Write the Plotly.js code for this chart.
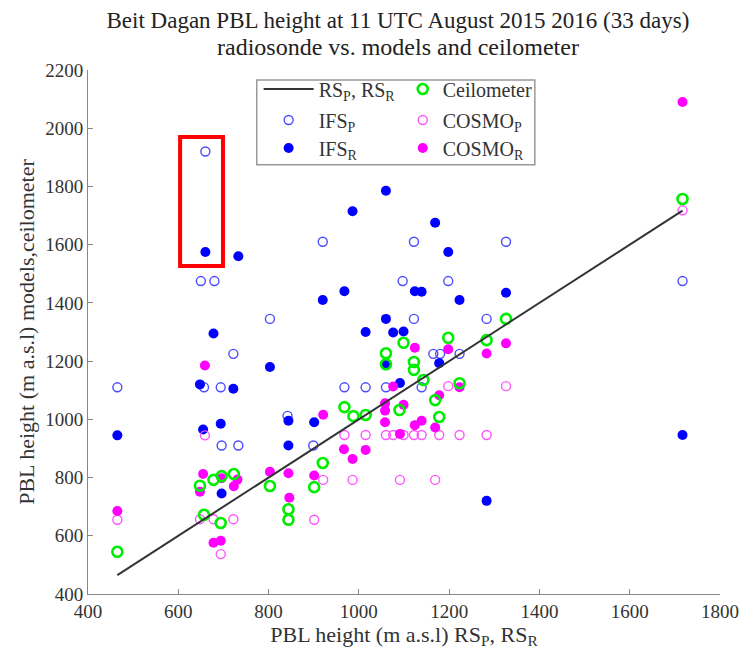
<!DOCTYPE html>
<html>
<head>
<meta charset="utf-8">
<script src="https://cdn.plot.ly/plotly-3.0.1.min.js"></script>
<style>html,body{margin:0;padding:0;background:#fff;}#chart{width:741px;height:657px;}</style>
</head>
<body>
<div id="chart"></div>
<script>
// RS reference line (min and max radiosonde PBL height)
const rsLineX = [465, 1717];
const rsLineY = [465, 1717];

// IFS_P (open blue)
const ifsPX = [465, 660, 650, 680, 657, 694, 722, 696, 733, 803, 842, 899, 920, 968, 1015, 1060, 1097, 1122, 1122, 1139, 1165, 1180, 1198, 1223, 1283, 1326, 1717];
const ifsPY = [1110, 1920, 1475, 1475, 1110, 1110, 1225, 910, 910, 1345, 1012, 910, 1610, 1110, 1110, 1110, 1475, 1610, 1345, 1110, 1225, 1225, 1475, 1225, 1345, 1610, 1475];

// IFS_R (filled blue)
const ifsRX = [465, 660, 733, 648, 655, 678, 694, 696, 722, 803, 844, 844, 901, 920, 968, 986, 1015, 1060, 1060, 1060, 1076, 1091, 1099, 1124, 1139, 1169, 1178, 1198, 1223, 1283, 1326, 1717];
const ifsRY = [945, 1575, 1560, 1120, 965, 1295, 985, 745, 1105, 1180, 995, 910, 990, 1410, 1440, 1715, 1300, 1785, 1345, 1187, 1298, 1125, 1302, 1440, 1438, 1675, 1193, 1575, 1410, 720, 1435, 946];

// Ceilometer (green rings)
const ceilX = [465, 648, 657, 678, 694, 696, 723, 803, 844, 844, 901, 920, 968, 988, 1015, 1060, 1060, 1090, 1099, 1122, 1122, 1143, 1169, 1178, 1198, 1223, 1283, 1326, 1717];
const ceilY = [545, 772, 672, 792, 644, 805, 812, 771, 691, 655, 767, 850, 1042, 1011, 1015, 1227, 1189, 1032, 1263, 1197, 1170, 1135, 1066, 1008, 1280, 1124, 1272, 1345, 1757];

// COSMO_P (open magenta)
const cosmoPX = [465, 659, 648, 678, 722, 694, 844, 901, 921, 986, 1091, 1169, 968, 1015, 1060, 1076, 1099, 1122, 1139, 1178, 1223, 1283, 1198, 1326, 1717];
const cosmoPY = [655, 945, 657, 657, 657, 537, 655, 655, 792, 792, 792, 792, 946, 946, 946, 946, 946, 946, 946, 946, 946, 946, 1114, 1114, 1718];

// COSMO_R (filled magenta)
const cosmoRX = [465, 659, 655, 648, 696, 731, 723, 678, 694, 803, 844, 846, 901, 921, 967, 986, 1015, 1058, 1058, 1058, 1076, 1091, 1099, 1124, 1124, 1139, 1169, 1178, 1198, 1223, 1283, 1326, 1717];
const cosmoRY = [685, 1185, 812, 751, 798, 793, 770, 576, 583, 820, 815, 731, 807, 1016, 897, 864, 895, 1055, 1030, 990, 1113, 950, 1050, 1246, 980, 995, 972, 1083, 1241, 1110, 1226, 1261, 2090];

// highlighted case (red box) extent
const boxX = [604, 699];
const boxY = [1527, 1970];

const titleLine1 = 'Beit Dagan PBL height at 11 UTC August 2015 2016 (33 days)';
const titleLine2 = 'radiosonde vs. models and ceilometer';

const serif = "Liberation Serif, Times New Roman, serif";
const legFont = {family: serif, size: 20, color: '#333'};

const traces = [
  {x: ifsPX, y: ifsPY, type: 'scatter', mode: 'markers', name: 'IFS<sub>P</sub>', legend: 'legend2',
   marker: {symbol: 'circle-open', size: 9, color: '#4b4bff', line: {width: 1.4, color: '#4b4bff'}}},
  {x: ifsRX, y: ifsRY, type: 'scatter', mode: 'markers', name: 'IFS<sub>R</sub>', legend: 'legend3',
   marker: {symbol: 'circle', size: 10, color: '#0000ff'}},
  {x: cosmoPX, y: cosmoPY, type: 'scatter', mode: 'markers', name: 'COSMO<sub>P</sub>', legend: 'legend5',
   marker: {symbol: 'circle-open', size: 9, color: '#ff55ff', line: {width: 1.4, color: '#ff55ff'}}},
  {x: cosmoRX, y: cosmoRY, type: 'scatter', mode: 'markers', name: 'COSMO<sub>R</sub>', legend: 'legend6',
   marker: {symbol: 'circle', size: 10, color: '#ff00ff'}},
  {x: ceilX, y: ceilY, type: 'scatter', mode: 'markers', name: 'Ceilometer', legend: 'legend4',
   marker: {symbol: 'circle-open', size: 10, color: '#00ee00', line: {width: 2.6, color: '#00ee00'}}},
  {x: rsLineX, y: rsLineY, type: 'scatter', mode: 'lines', name: 'RS<sub>P</sub>, RS<sub>R</sub>', legend: 'legend',
   line: {color: '#333333', width: 2}}
];

function leg(x, yPx, extra) {
  return Object.assign({x: x, y: (594 - yPx) / 524, xanchor: 'left', yanchor: 'middle',
    bgcolor: 'rgba(0,0,0,0)', borderwidth: 0, font: legFont}, extra || {});
}

const layout = {
  width: 741, height: 657,
  margin: {l: 88, r: 21, t: 70, b: 63},
  paper_bgcolor: '#fff', plot_bgcolor: '#fff',
  font: {family: serif, color: '#333', size: 19},
  title: {text: titleLine1, x: 0.537, xanchor: 'center', xref: 'container',
          y: 1 - 20 / 657, yanchor: 'middle', yref: 'container', font: {family: serif, size: 23, color: '#222'}},
  annotations: [
    {text: titleLine2, xref: 'paper', yref: 'paper', x: 0.49, y: (594 - 47) / 524, xanchor: 'center', yanchor: 'middle',
     showarrow: false, font: {family: serif, size: 24, color: '#222'}}
  ],
  xaxis: {range: [400, 1800], dtick: 200, tick0: 400, showgrid: false, zeroline: false,
          showline: true, linecolor: '#888', linewidth: 1, ticks: 'inside', ticklen: 5, tickcolor: '#888',
          tickfont: {family: serif, size: 19, color: '#333'},
          title: {text: 'PBL height (m a.s.l) RS<sub>P</sub>, RS<sub>R</sub>', font: {family: serif, size: 22, color: '#333'}, standoff: 4}},
  yaxis: {range: [400, 2200], dtick: 200, tick0: 400, showgrid: false, zeroline: false,
          showline: true, linecolor: '#888', linewidth: 1, ticks: 'inside', ticklen: 5, tickcolor: '#888',
          tickfont: {family: serif, size: 19, color: '#333'},
          title: {text: 'PBL height (m a.s.l) models,ceilometer', font: {family: serif, size: 22, color: '#333'}, standoff: 4}},
  legend: leg(0.27, 89, {itemwidth: 50}),
  legend2: leg(0.27, 120, {itemwidth: 50}),
  legend3: leg(0.27, 148, {itemwidth: 50}),
  legend4: leg(0.498, 89),
  legend5: leg(0.498, 120),
  legend6: leg(0.498, 148),
  shapes: [
    {type: 'rect', xref: 'paper', yref: 'paper', x0: 0.267, x1: 0.707, y0: 0.819, y1: 0.981,
     line: {color: '#999', width: 1.5}, fillcolor: 'rgba(0,0,0,0)', layer: 'above'},
    {type: 'rect', xref: 'x', yref: 'y', x0: boxX[0], x1: boxX[1], y0: boxY[0], y1: boxY[1],
     line: {color: '#ff0000', width: 4}, fillcolor: 'rgba(0,0,0,0)'}
  ],
  showlegend: true
};

Plotly.newPlot('chart', traces, layout, {displayModeBar: false, staticPlot: true});
</script>
</body>
</html>
